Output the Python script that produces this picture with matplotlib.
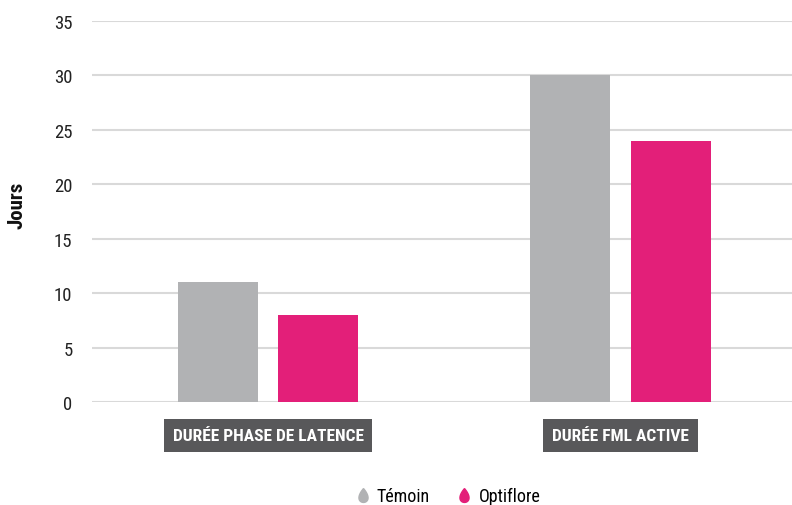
import numpy as np
import matplotlib
matplotlib.use("Agg")
import matplotlib.pyplot as plt
from matplotlib import font_manager as fm
from matplotlib.path import Path
from matplotlib.lines import Line2D

categories = ["DURÉE PHASE DE LATENCE", "DURÉE FML ACTIVE"]
series_names = ["Témoin", "Optiflore"]
temoin = [11, 30]
optiflore = [8, 24]
yticks = [0, 5, 10, 15, 20, 25, 30, 35]

colors = ["#b1b2b4", "#e31f79"]

names = {f.name for f in fm.fontManager.ttflist}
font = "DejaVu Sans"
stretch = "condensed"
for cand in ["Roboto Condensed", "Liberation Sans Narrow", "Open Sans Condensed"]:
    if cand in names:
        font = cand
        stretch = "normal"
        break
plt.rcParams["font.family"] = [font, "DejaVu Sans"]
plt.rcParams["font.stretch"] = stretch

fig = plt.figure(figsize=(7.92, 5.06), dpi=100)
ax = fig.add_axes([92 / 792, 1 - 403 / 506, 700 / 792, 381 / 506])

x = np.arange(len(categories))
w = 0.227
off = 0.1426
ax.bar(x - off, temoin, w, color=colors[0], zorder=2)
ax.bar(x + off, optiflore, w, color=colors[1], zorder=2)

ax.set_ylim(0, 35)
ax.set_xlim(-0.5004, 1.487)
ax.set_yticks(yticks)
ax.set_yticklabels([str(v) for v in yticks], fontsize=13.5, color="#222222")
ax.tick_params(axis="y", length=0, pad=14)
ax.set_xticks([])
ax.grid(axis="y", color="#d9d9d9", linewidth=1.5, zorder=0)
for s in ax.spines.values():
    s.set_visible(False)

ax.set_ylabel("Jours", fontsize=15, fontweight="bold", color="#111111")
ax.yaxis.set_label_coords(-0.093, 0.52)

for xi, cat in zip(x, categories):
    ax.text(xi, -0.088, cat, transform=ax.get_xaxis_transform(), ha="center", va="center",
            color="white", fontsize=12.5, fontweight="bold",
            bbox=dict(boxstyle="square,pad=0.5", fc="#58585a", ec="none"))

t = np.linspace(0, 2 * np.pi, 60)
drop = Path(np.column_stack([np.sin(t) * np.sin(t / 2) * 0.85, np.cos(t)]))
handles = [Line2D([], [], marker=drop, linestyle="none", markersize=10,
                  markerfacecolor=c, markeredgecolor=c) for c in colors]
ax.legend(handles, series_names, loc="center", bbox_to_anchor=(0.506, -0.247), ncol=2,
          frameon=False, fontsize=13, handletextpad=0.2, columnspacing=1.3,
          handlelength=1.2)

fig.savefig("out.png", dpi=100)
